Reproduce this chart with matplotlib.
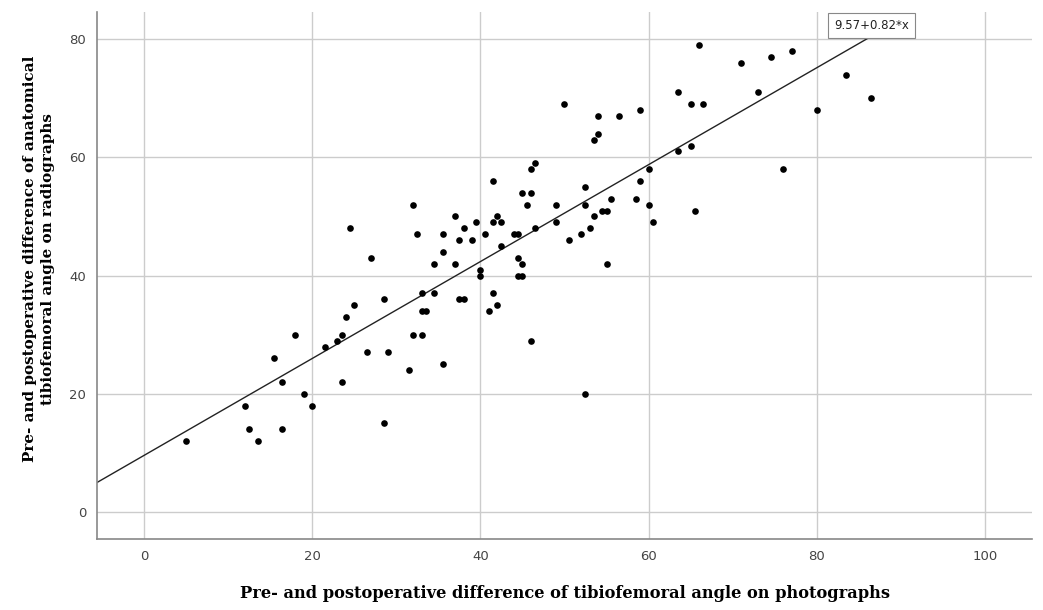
import matplotlib
matplotlib.use("Agg")
import matplotlib.pyplot as plt
import numpy as np

# diferencia pre/post: fotografias (x) vs radiografias (y)
foto = [5, 12, 12.5, 13.5, 15.5, 16.4, 16.4, 18, 19, 20, 21.5, 23, 23.5, 23.5, 24,
        24.5, 25, 26.5, 27, 28.5, 28.5, 29, 31.5, 32, 32, 32.5, 33, 33, 33.5, 33,
        34.5, 34.5, 35.5, 35.5, 35.5, 37, 37, 37.5, 37.5, 38, 38, 39, 39.5, 40, 40,
        40.5, 41, 41.5, 41.5, 41.5, 42, 42, 42.5, 42.5, 44, 44.5, 44.5, 45, 44.5, 45,
        45, 46, 45.5, 46, 46.5, 46.5, 46, 49, 49, 50, 50.5, 52, 52.5, 52.5, 52.5, 53,
        53.5, 53.5, 54, 54, 54.5, 55, 55.5, 55, 56.5, 58.5, 59, 59, 60, 60, 60.5,
        63.5, 63.5, 65, 66.5, 65, 65.5, 66, 71, 74.5, 77, 73, 83.5, 86.5, 80, 76]
radio = [12, 18, 14, 12, 26, 22, 14, 30, 20, 18, 28, 29, 30, 22, 33,
         48, 35, 27, 43, 36, 15, 27, 24, 30, 52, 47, 37, 34, 34, 30,
         37, 42, 47, 44, 25, 50, 42, 46, 36, 36, 48, 46, 49, 41, 40,
         47, 34, 56, 49, 37, 50, 35, 49, 45, 47, 47, 43, 42, 40, 40,
         54, 54, 52, 58, 59, 48, 29, 52, 49, 69, 46, 47, 55, 52, 20, 48,
         50, 63, 64, 67, 51, 51, 53, 42, 67, 53, 56, 68, 58, 52, 49,
         71, 61, 69, 69, 62, 51, 79, 76, 77, 78, 71, 74, 70, 68, 58]

intercepto = 9.57
pendiente = 0.82
etiqueta = "9.57+0.82*x"
xticks = [0, 20, 40, 60, 80, 100]
yticks = [0, 20, 40, 60, 80]

fig = plt.figure(figsize=(10.43, 6.10), dpi=100)
ax = fig.add_axes([0.0933, 0.1164, 0.8962, 0.8639])

ax.set_xlim(-5.55, 105.6)
ax.set_ylim(-4.57, 84.6)

ax.scatter(foto, radio, s=23, color="black", zorder=3, linewidths=0)

xl = np.array([ax.get_xlim()[0], max(foto)])
ax.plot(xl, intercepto + pendiente * xl, color="#222222", lw=1.0, zorder=2)

ax.annotate(etiqueta, xy=(xl[1], intercepto + pendiente * xl[1]),
            xytext=(0, 7.5), textcoords="offset points", ha="center", va="center",
            fontsize=8.5, color="#222222", family="DejaVu Sans", zorder=5,
            annotation_clip=False,
            bbox=dict(boxstyle="square,pad=0.5", fc="white", ec="#888888", lw=0.8))

ax.set_xticks(xticks)
ax.set_yticks(yticks)
ax.grid(True, color="#cccccc", lw=1.0)
ax.set_axisbelow(True)
ax.tick_params(length=0, labelsize=9.5, labelcolor="#444444", pad=8)

for s in ["top", "right"]:
    ax.spines[s].set_visible(False)
for s in ["left", "bottom"]:
    ax.spines[s].set_color("#888888")
    ax.spines[s].set_linewidth(1.2)

ax.set_xlabel("Pre- and postoperative difference of tibiofemoral angle on photographs",
              family="DejaVu Serif", fontweight="bold", fontsize=11.7, labelpad=16)
ax.set_ylabel("Pre- and postoperative difference of anatomical\ntibiofemoral angle on radiographs",
              family="DejaVu Serif", fontweight="bold", fontsize=10.9,
              linespacing=1.35)
ax.yaxis.set_label_coords(-0.0452, 0.531)

fig.savefig("out.png", dpi=100)
